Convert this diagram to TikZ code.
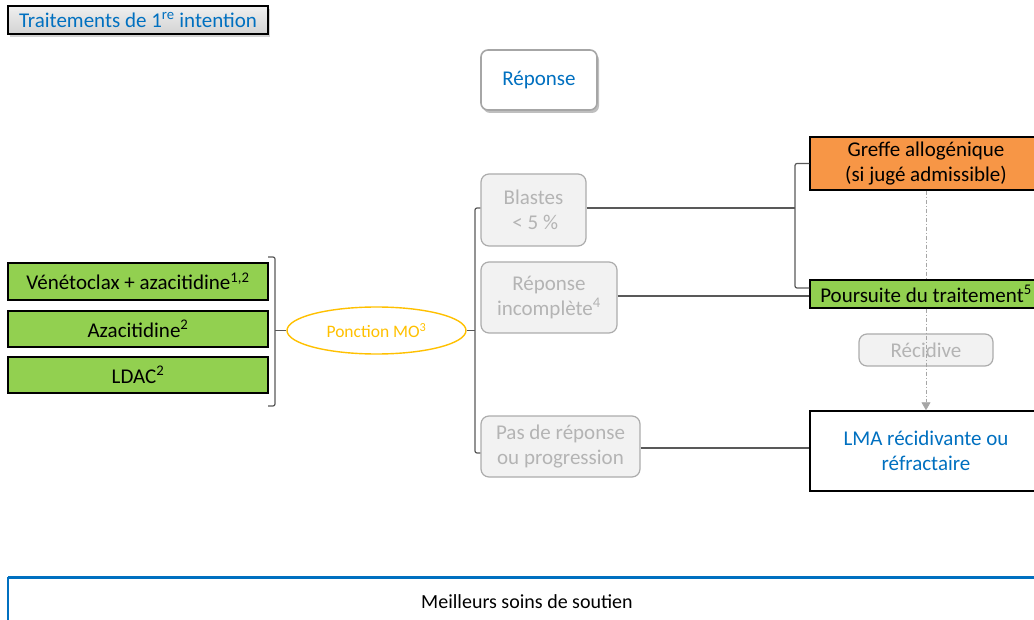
\documentclass[tikz,border=0pt]{standalone}
\usepackage{fontspec}
\setmainfont{Carlito}
\usetikzlibrary{shapes.geometric,arrows.meta,shadows}

\definecolor{officeblue}{RGB}{0,112,192}
\definecolor{limegreen}{RGB}{146,208,80}
\definecolor{warmorange}{RGB}{247,150,70}
\definecolor{amber}{RGB}{255,192,0}
\definecolor{paleg}{RGB}{242,242,242}
\definecolor{midgray}{RGB}{166,166,166}
\definecolor{softgray}{RGB}{180,180,180}
\definecolor{linkgray}{RGB}{89,89,89}

\tikzset{
  every node/.style={font=\fontsize{21}{25}\selectfont, align=center, inner sep=0pt},
  titlebox/.style={draw=black, line width=1.4pt, top color=gray!12, bottom color=gray!35,
    text=officeblue, minimum width=260pt, minimum height=28pt,
    drop shadow={shadow xshift=2pt, shadow yshift=-3pt, opacity=0.35}},
  headbox/.style={draw=gray!70, line width=1.6pt, fill=white, rounded corners=7pt,
    text=officeblue, minimum width=116pt, minimum height=60pt,
    drop shadow={shadow xshift=2pt, shadow yshift=-3pt, opacity=0.5}},
  regimen/.style={draw=black, line width=1.4pt, fill=limegreen,
    minimum width=260pt, minimum height=36pt},
  stepellipse/.style={ellipse, draw=amber, line width=1.4pt, text=amber,
    font=\fontsize{17.5}{20}\selectfont, minimum width=179pt, minimum height=47pt},
  outcome/.style={draw=gray!65, line width=1.2pt, fill=paleg, rounded corners=8pt,
    text=softgray},
  rightbox/.style={draw=black, line width=1.4pt, minimum width=232pt},
  link/.style={draw=linkgray, line width=1.2pt},
  brace/.style={draw=linkgray, line width=1.2pt, rounded corners=2pt},
}

\begin{document}
\begin{tikzpicture}[x=1pt, y=-1pt]
\useasboundingbox (0,0) rectangle (1034,620);

% headings
\node[titlebox] (title) at (138,20) {Traitements de 1\textsuperscript{re} intention};
\node[headbox] (resp) at (539,80) {Réponse};

% first-line regimens
\node[regimen, minimum height=37pt] (ven) at (138,281.5) {Vénétoclax + azacitidine\textsuperscript{1,2}};
\node[regimen] (aza) at (138,329) {Azacitidine\textsuperscript{2}};
\node[regimen] (ldac) at (138,375) {LDAC\textsuperscript{2}};

% bone marrow aspirate
\node[stepellipse] (mo) at (376.5,330.5) {Ponction MO\textsuperscript{3}};

% response categories
\node[outcome, minimum width=105pt, minimum height=72pt] (blast) at (533.5,210) {Blastes\\\,< 5 \%};
\node[outcome, minimum width=136pt, minimum height=71pt] (incomp) at (549,297.5) {Réponse\\incomplète\textsuperscript{4}};
\node[outcome, minimum width=159pt, minimum height=61pt] (nonresp) at (560.5,446.5) {Pas de réponse\\ou progression};

% follow-up options
\node[rightbox, fill=warmorange, minimum height=53pt] (allo) at (926,163.5) {Greffe allogénique\\(si jugé admissible)};
\node[outcome, minimum width=134pt, minimum height=32pt] (relapse) at (926,350) {Récidive};
\node[rightbox, fill=white, text=officeblue, minimum height=80pt] (rr) at (926,451) {LMA récidivante ou\\réfractaire};

% relapse path
\draw[midgray, line width=0.8pt, dash pattern=on 4pt off 2pt on 1pt off 2pt]
  (allo.south) -- (926,280);
\node[rightbox, fill=limegreen, minimum height=28pt] (cont) at (926,294) {Poursuite du traitement\textsuperscript{5}};
\draw[midgray, line width=0.8pt, dash pattern=on 4pt off 2pt on 1pt off 2pt,
  -{Triangle[width=9pt,length=8pt]}] (cont.south) -- (rr.north);

% regimen brace into the aspirate
\coordinate (lbT) at (268,257);
\coordinate (lbB) at (268,406);
\draw[brace] (lbT) -- (275,257) -- (275,406) -- (lbB);
\draw[link] (275,330.5) -- (mo.west);

% aspirate to response categories
\draw[link] (mo.east) -- (475,330.5);
\draw[brace] (blast.west |- 0,208) -- (475,208) -- (475,453) -- (nonresp.west |- 0,453);

% responses to follow-up options
\draw[link] (blast.east |- 0,208) -- (795,208);
\draw[brace] (allo.west) -- (795,163.5) -- (795,288) -- (cont.west |- 0,288);
\draw[link] (incomp.east |- 0,296) -- (cont.west |- 0,296);
\draw[link] (nonresp.east |- 0,448) -- (rr.west |- 0,448);

% supportive care banner
\node[draw=none, fill=white, minimum width=1038pt, minimum height=66pt, anchor=north west] (bsc) at (8,577) {};
\draw[officeblue, line width=3pt] (bsc.north west) -- (bsc.north east);
\draw[officeblue, line width=2pt] (bsc.north west) -- (bsc.south west);
\node[font=\fontsize{20}{24}\selectfont] (bsclabel) at (527,602) {Meilleurs soins de soutien};
\end{tikzpicture}
\end{document}
